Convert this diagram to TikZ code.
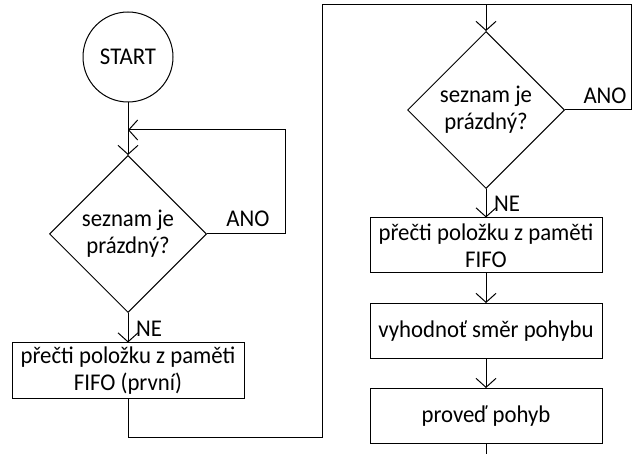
\documentclass[tikz,border=0pt]{standalone}
\usepackage{fontspec}
\setmainfont{Carlito}[FakeStretch=0.95]
\usetikzlibrary{arrows.meta,shapes.geometric,positioning}

\begin{document}
\begin{tikzpicture}[x=1pt,y=-1pt,
	every node/.style={font=\fontsize{24}{27}\selectfont,align=center},
	flow/.style={line width=1pt,-{Straight Barb[length=9pt,width=20pt,line width=1pt]}},
	line/.style={line width=1pt},
	startnode/.style={circle,draw,line width=1pt,minimum size=90pt,inner sep=0pt},
	decide/.style={diamond,draw,line width=1pt,aspect=1,inner sep=0pt,minimum width=157pt,minimum height=157pt},
	action/.style={rectangle,draw,line width=1pt,minimum width=232pt,minimum height=55pt,inner sep=0pt}]
	\useasboundingbox (0,0) rectangle (632,454);

	\node[startnode] (start) at (128,57) {START};
	\node[decide] (dec1) at (128,234) {seznam je\\prázdný?};
	\node[action] (read1) at (128,370.5) {přečti položku z paměti\\FIFO (první)};

	\node[decide] (dec2) at (486,110) {seznam je\\prázdný?};
	\node[action] (read2) at (486,245.5) {přečti položku z paměti\\FIFO};
	\node[action] (eval) at (486,331) {vyhodnoť směr pohybu};
	\node[action] (move) at (486,416) {proveď pohyb};

	\coordinate (join1) at (128,130);
	\coordinate (back1) at (285,234);
	\coordinate (top) at (322,5);
	\coordinate (back2) at (631.5,5);
	\coordinate (out) at (486,454);

	\draw[line] (start) -- (join1);
	\draw[flow] (join1) -- (dec1);
	\draw[flow] (dec1.east) -- (back1) |- (join1);
	\draw[flow] (dec1) -- (read1);
	\draw[flow] (read1.south) -- ++(0,39) -| (top) -| (dec2.north);
	\draw[line] (dec2.east) -| (back2) -- (dec2.north |- back2);
	\draw[flow] (dec2) -- (read2);
	\draw[flow] (read2) -- (eval);
	\draw[flow] (eval) -- (move);
	\draw[line] (move) -- (out);

	\node (ano1) at (248,219) {ANO};
	\node (ano2) at (605,96) {ANO};
	\node[anchor=west,inner sep=0pt] (ne1) at (136,329) {NE};
	\node[anchor=west,inner sep=0pt] (ne2) at (494,204) {NE};
\end{tikzpicture}
\end{document}
